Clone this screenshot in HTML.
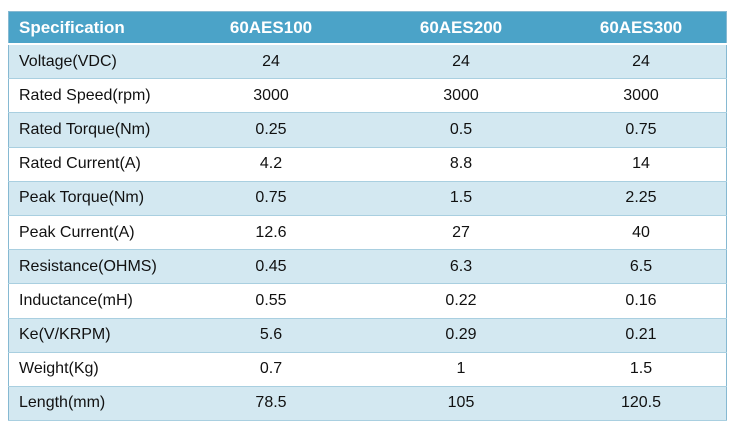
<!DOCTYPE html>
<html><head><meta charset="utf-8"><style>
body{margin:0;width:736px;height:431px;background:#fff;overflow:hidden;font-family:"Liberation Sans",sans-serif}
table{position:absolute;left:8px;top:11px;width:719px;border-collapse:collapse;border:1px solid #86b9d2}
td,th{height:33.2px;padding:0;font-size:16px;color:#111;text-align:center;border-bottom:1px solid #a9cfe0}
th{height:31px;background:#4ba3c8;color:#fff;font-size:17px;font-weight:bold;border-bottom:2px solid #fff}
td:first-child,th:first-child{text-align:left;padding-left:10px;width:157px}
tr:nth-child(even) td{background:#d3e8f1}
tr:nth-child(odd) td{background:#fff}
</style></head><body>
<table>
<tr><th>Specification</th><th style="width:190px">60AES100</th><th style="width:190px">60AES200</th><th>60AES300</th></tr>
<tr><td>Voltage(VDC)</td><td>24</td><td>24</td><td>24</td></tr>
<tr><td>Rated Speed(rpm)</td><td>3000</td><td>3000</td><td>3000</td></tr>
<tr><td>Rated Torque(Nm)</td><td>0.25</td><td>0.5</td><td>0.75</td></tr>
<tr><td>Rated Current(A)</td><td>4.2</td><td>8.8</td><td>14</td></tr>
<tr><td>Peak Torque(Nm)</td><td>0.75</td><td>1.5</td><td>2.25</td></tr>
<tr><td>Peak Current(A)</td><td>12.6</td><td>27</td><td>40</td></tr>
<tr><td>Resistance(OHMS)</td><td>0.45</td><td>6.3</td><td>6.5</td></tr>
<tr><td>Inductance(mH)</td><td>0.55</td><td>0.22</td><td>0.16</td></tr>
<tr><td>Ke(V/KRPM)</td><td>5.6</td><td>0.29</td><td>0.21</td></tr>
<tr><td>Weight(Kg)</td><td>0.7</td><td>1</td><td>1.5</td></tr>
<tr><td>Length(mm)</td><td>78.5</td><td>105</td><td>120.5</td></tr>
</table>
</body></html>
